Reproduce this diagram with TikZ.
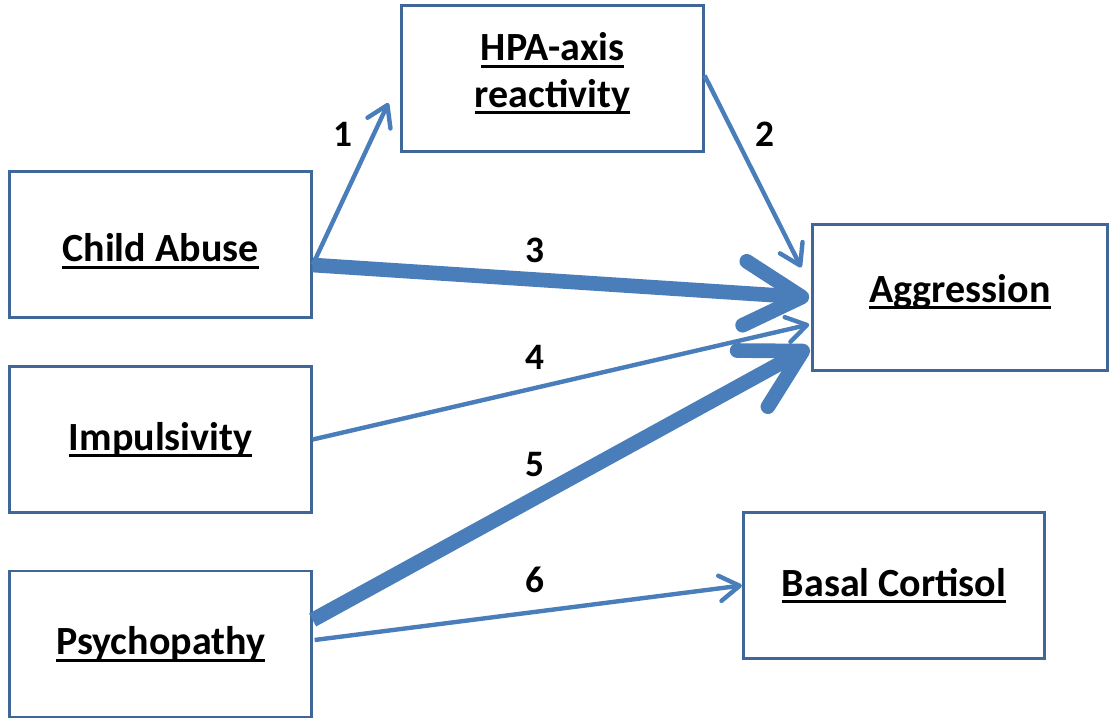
\documentclass[tikz,border=0pt]{standalone}
\usepackage{fontspec}
\setmainfont{Carlito}
\newcommand{\thickul}[1]{\setbox0\hbox{#1}\rlap{\rule[-5.2pt]{\wd0}{2.2pt}}\box0}
\newcommand{\nudge}[2]{\raisebox{#1}[\height][\depth]{#2}}
\usepackage{xcolor}
\definecolor{boxline}{HTML}{3F6797}
\definecolor{arrowblue}{HTML}{4A7EBB}
\usepackage{tikz}
\usetikzlibrary{arrows.meta, positioning, calc}

\begin{document}
\begin{tikzpicture}[x=0.75pt, y=-0.75pt,
  varbox/.style={rectangle, draw=boxline, line width=2.2pt, fill=white,
    minimum width=226pt, minimum height=109.5pt, align=center, inner sep=0pt,
    font=\fontsize{30}{36}\selectfont\bfseries},
  thinarrow/.style={-{Straight Barb[length=15pt, width=19pt, round]},
    line width=3.3pt, color=arrowblue},
  thickarrow/.style={-{Straight Barb[length=43pt, width=48pt, round]},
    line width=11pt, color=arrowblue},
  pathnum/.style={font=\fontsize{28}{30}\selectfont\bfseries, inner sep=0pt}
]
\useasboundingbox (0,0) rectangle (1109,720);

% variables
\node[varbox] (hpa) at (552.5,78.5)
  {\nudge{3pt}{\begin{tabular}{@{}c@{}}\thickul{HPA-axis}\\[-1pt]\thickul{reactivity}\end{tabular}}};
\node[varbox] (abuse) at (160.5,244.5) {\nudge{-5pt}{\thickul{Child Abuse}}};
\node[varbox] (impuls) at (160.5,439.5) {\thickul{Impulsivity}};
\node[varbox] (psycho) at (160.5,644) {\thickul{Psychopathy}};
\node[varbox, minimum width=221pt] (aggr) at (960,297.5) {\nudge{4.5pt}{\thickul{Aggression}}};
\node[varbox] (cort) at (894,585.5) {\thickul{Basal Cortisol}};

% paths
\draw[thinarrow] ($(abuse.east)+(0,20.5)$) -- ($(hpa.west)+(-12,24.5)$);
\draw[thinarrow] ($(hpa.east)+(0,-3)$) -- ($(aggr.west)+(-10,-30)$);
\draw[thickarrow] ($(abuse.east)+(0,20.5)$) -- ($(aggr.west)+(-2,0)$);
\draw[thinarrow] (impuls.east) -- ($(aggr.west)+(-2,27)$);
\draw[thickarrow] ($(psycho.east)+(0,-24)$) -- ($(aggr.west)+(-2,50)$);
\draw[thinarrow] ($(psycho.east)+(2,-4)$) -- (cort.west);

\node[pathnum] (n1) at (343,134) {1};
\node[pathnum] (n2) at (765,134) {2};
\node[pathnum] (n3) at (535,250) {3};
\node[pathnum] (n4) at (535,357) {4};
\node[pathnum] (n5) at (535,465) {5};
\node[pathnum] (n6) at (535,580) {6};
\end{tikzpicture}
\end{document}
